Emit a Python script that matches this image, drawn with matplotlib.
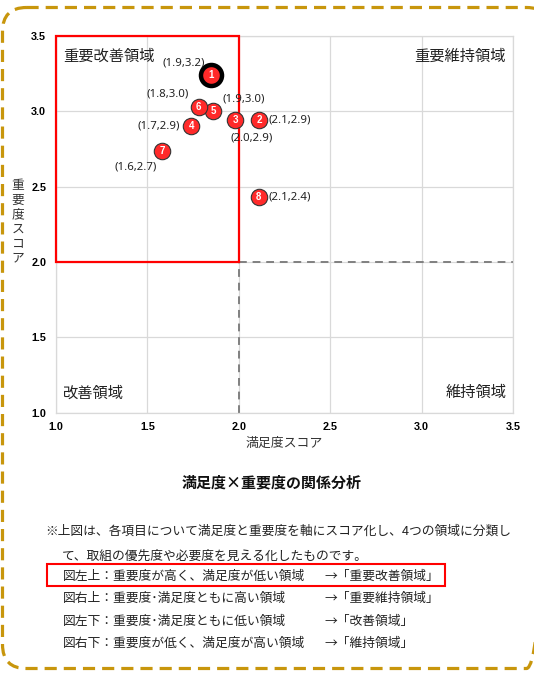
import matplotlib
matplotlib.use("Agg")
import matplotlib.pyplot as plt
from matplotlib.patches import FancyBboxPatch, Rectangle

plt.rcParams["font.family"] = ["Noto Sans CJK JP", "DejaVu Sans"]

# item number, satisfaction (x), importance (y)
item_ids = [1, 2, 3, 4, 5, 6, 7, 8]
satisfaction = [1.85, 2.11, 1.98, 1.74, 1.86, 1.78, 1.58, 2.11]
importance = [3.24, 2.94, 2.945, 2.90, 3.00, 3.03, 2.74, 2.43]
point_labels = ["(1.9,3.2)", "(2.1,2.9)", "(2.0,2.9)", "(1.7,2.9)",
                "(1.9,3.0)", "(1.8,3.0)", "(1.6,2.7)", "(2.1,2.4)"]

ticks = [1.0, 1.5, 2.0, 2.5, 3.0, 3.5]
threshold_x = 2.0
threshold_y = 2.0

quadrants = ["重要改善領域", "重要維持領域", "改善領域", "維持領域"]
title = "満足度×重要度の関係分析"
xlabel = "満足度スコア"
ylabel = "重要度スコア"
note_intro = ["※上図は、各項目について満足度と重要度を軸にスコア化し、4つの領域に分類し",
              "て、取組の優先度や必要度を見える化したものです。"]
note_items = ["図左上：重要度が高く、満足度が低い領域",
              "図右上：重要度･満足度ともに高い領域",
              "図左下：重要度･満足度ともに低い領域",
              "図右下：重要度が低く、満足度が高い領域"]
note_targets = ["→「重要改善領域」", "→「重要維持領域」", "→「改善領域」", "→「維持領域」"]

# label offsets in points (dx, dy, ha)
label_offsets = {
    1: (-20, 9, "center"), 2: (7, 0, "left"), 3: (12, -13, "center"),
    4: (-8, 0, "right"), 5: (22, 9, "center"), 6: (-22, 9, "center"),
    7: (-19, -12, "center"), 8: (7, 0, "left"),
}

fig = plt.figure(figsize=(5.34, 6.80), dpi=100)

# background overlay in pixel coordinates
bg = fig.add_axes([0, 0, 1, 1], zorder=0)
bg.set_xlim(0, 534)
bg.set_ylim(680, 0)
bg.axis("off")
border = FancyBboxPatch((2.5, 7.5), 548, 661, boxstyle="round,pad=0,rounding_size=24",
                        fill=False, edgecolor="#C8960C", linewidth=2.3,
                        linestyle=(0, (3.8, 2.2)), clip_on=False)
bg.add_patch(border)

ax = fig.add_axes([56 / 534, 1 - 412.7 / 680, 457 / 534, 376.7 / 680], zorder=1)
ax.set_xlim(ticks[0], ticks[-1])
ax.set_ylim(ticks[0], ticks[-1])
ax.set_xticks(ticks)
ax.set_yticks(ticks)
ax.set_xticklabels([f"{t:.1f}" for t in ticks], family="Liberation Sans",
                   fontweight="bold", fontsize=7.8)
ax.set_yticklabels([f"{t:.1f}" for t in ticks], family="Liberation Sans",
                   fontweight="bold", fontsize=7.8)
ax.tick_params(length=0, pad=7, colors="#000000")
ax.grid(True, color="#D9D9D9", linewidth=0.9)
ax.set_axisbelow(True)
for s in ax.spines.values():
    s.set_color("#D9D9D9")
    s.set_linewidth(0.9)

# threshold dashed lines
ax.plot([threshold_x, threshold_x], [ticks[0], ticks[-1]], color="#808080",
        linewidth=1.4, linestyle=(0, (4, 3)), zorder=2)
ax.plot([threshold_x, ticks[-1]], [threshold_y, threshold_y], color="#808080",
        linewidth=1.4, linestyle=(0, (4, 3)), zorder=2)

# highlighted quadrant
ax.add_patch(Rectangle((ticks[0], threshold_y), threshold_x - ticks[0],
                       ticks[-1] - threshold_y, fill=False, edgecolor="#FF0000",
                       linewidth=1.6, zorder=3, clip_on=False))

qkw = dict(fontsize=11, color="#222222")
ax.text(0.016, 0.968, quadrants[0], transform=ax.transAxes, ha="left", va="top", **qkw)
ax.text(0.985, 0.968, quadrants[1], transform=ax.transAxes, ha="right", va="top", **qkw)
ax.text(0.016, 0.03, quadrants[2], transform=ax.transAxes, ha="left", va="bottom", **qkw)
ax.text(0.985, 0.03, quadrants[3], transform=ax.transAxes, ha="right", va="bottom", **qkw)

for i, x, y, lab in zip(item_ids, satisfaction, importance, point_labels):
    if i == 1:
        ax.scatter(x, y, s=230, color="#FF2A2A", edgecolor="#000000", linewidth=3.2, zorder=5)
    else:
        ax.scatter(x, y, s=140, color="#FF2A2A", edgecolor="#333333", linewidth=0.8, zorder=5)
    ax.text(x, y, str(i), ha="center", va="center", color="white", fontsize=7,
            fontweight="bold", family="Liberation Sans", zorder=6)
    dx, dy, ha = label_offsets[i]
    ax.annotate(lab, (x, y), xytext=(dx, dy), textcoords="offset points",
                ha=ha, va="center", fontsize=8.2, family="Noto Sans", color="#222222",
                zorder=7)

ax.set_xlabel(xlabel, fontsize=9.3, color="#333333", labelpad=3)
bg.text(18, 222, "\n".join(ylabel), ha="center", va="center", fontsize=9.2,
        color="#333333", linespacing=1.15)

# title and notes
bg.text(272, 482, title, ha="center", va="center", fontsize=10.8, fontweight="bold",
        color="#111111")
nkw = dict(ha="left", va="center", fontsize=9.2, color="#222222")
bg.text(45, 531, note_intro[0], **nkw)
bg.text(62, 556, note_intro[1], **nkw)
for k, (item, target) in enumerate(zip(note_items, note_targets)):
    yy = 576 + k * 22.5
    bg.text(63, yy, item, **nkw)
    bg.text(324, yy, target, **nkw)
bg.add_patch(Rectangle((47, 564), 398, 22, fill=False, edgecolor="#FF0000", linewidth=1.5))

fig.savefig("out.png", dpi=100)
